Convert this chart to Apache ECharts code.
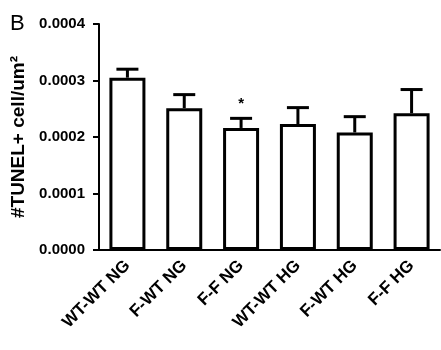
<!DOCTYPE html>
<html>
<head>
<meta charset="utf-8">
<script src="https://cdn.jsdelivr.net/npm/echarts@6/dist/echarts.min.js"></script>
<style>
html,body{margin:0;padding:0;background:#fff;}
#c{width:441px;height:350px;}
</style>
</head>
<body>
<div id="c"></div>
<script>
var categories = ['WT-WT NG', 'F-WT NG', 'F-F NG', 'WT-WT HG', 'F-WT HG', 'F-F HG'];
var means = [0.000305, 0.000251, 0.000216, 0.000223, 0.000208, 0.000242];
var upper = [0.000320, 0.000275, 0.000233, 0.000252, 0.000236, 0.000284];
var marks = ['', '', '*', '', '', ''];
var yTicks = [0, 0.0001, 0.0002, 0.0003, 0.0004];

var FONT = '"Liberation Sans", Arial, Helvetica, sans-serif';
var chart = echarts.init(document.getElementById('c'), null, {renderer: 'canvas'});

var errData = categories.map(function (c, i) { return [i, means[i], upper[i], marks[i]]; });

chart.setOption({
  animation: false,
  backgroundColor: '#fff',
  graphic: [{
    type: 'text', left: 10, top: 13,
    style: {text: 'B', font: '22px ' + FONT, fill: '#000'}
  }],
  grid: {left: 99, right: 1, top: 24, bottom: 100, containLabel: false},
  xAxis: {
    type: 'category',
    data: categories,
    axisLine: {lineStyle: {color: '#000', width: 2}},
    axisTick: {alignWithLabel: true, length: 6, lineStyle: {color: '#000', width: 2}},
    axisLabel: {
      interval: 0, rotate: 45, margin: 13,
      color: '#000', fontWeight: 'bold', fontSize: 17, fontFamily: FONT
    }
  },
  yAxis: {
    type: 'value',
    min: yTicks[0], max: yTicks[yTicks.length - 1], interval: 0.0001,
    name: '#TUNEL+ cell/um\u00B2',
    nameLocation: 'middle', nameGap: 65, nameRotate: 90,
    nameTextStyle: {color: '#000', fontWeight: 'bold', fontSize: 19, fontFamily: FONT},
    splitLine: {show: false},
    axisLine: {show: true, lineStyle: {color: '#000', width: 2}},
    axisTick: {show: true, length: 6, lineStyle: {color: '#000', width: 2}},
    axisLabel: {
      margin: 14, color: '#000', fontWeight: 'bold', fontSize: 15, fontFamily: FONT,
      formatter: function (v) { return v.toFixed(4); }
    }
  },
  series: [{
    type: 'bar',
    data: means,
    barWidth: 36,
    itemStyle: {color: '#fff', borderColor: '#000', borderWidth: 3}
  }, {
    type: 'custom',
    data: errData,
    encode: {x: 0, y: [1, 2]},
    z: 3,
    renderItem: function (params, api) {
      var i = api.value(0);
      var top = api.coord([i, api.value(2)]);
      var base = api.coord([i, api.value(1)]);
      var hw = 11;
      var children = [
        {type: 'line', shape: {x1: top[0], y1: top[1], x2: base[0], y2: base[1]}, style: {stroke: '#000', lineWidth: 3}},
        {type: 'line', shape: {x1: top[0] - hw, y1: top[1], x2: top[0] + hw, y2: top[1]}, style: {stroke: '#000', lineWidth: 3}}
      ];
      var m = marks[params.dataIndex];
      if (m) {
        children.push({type: 'text', style: {text: m, x: top[0], y: top[1] - 7, align: 'center', verticalAlign: 'bottom', font: 'bold 15px ' + FONT, fill: '#000'}});
      }
      return {type: 'group', children: children};
    }
  }]
});
</script>
</body>
</html>
